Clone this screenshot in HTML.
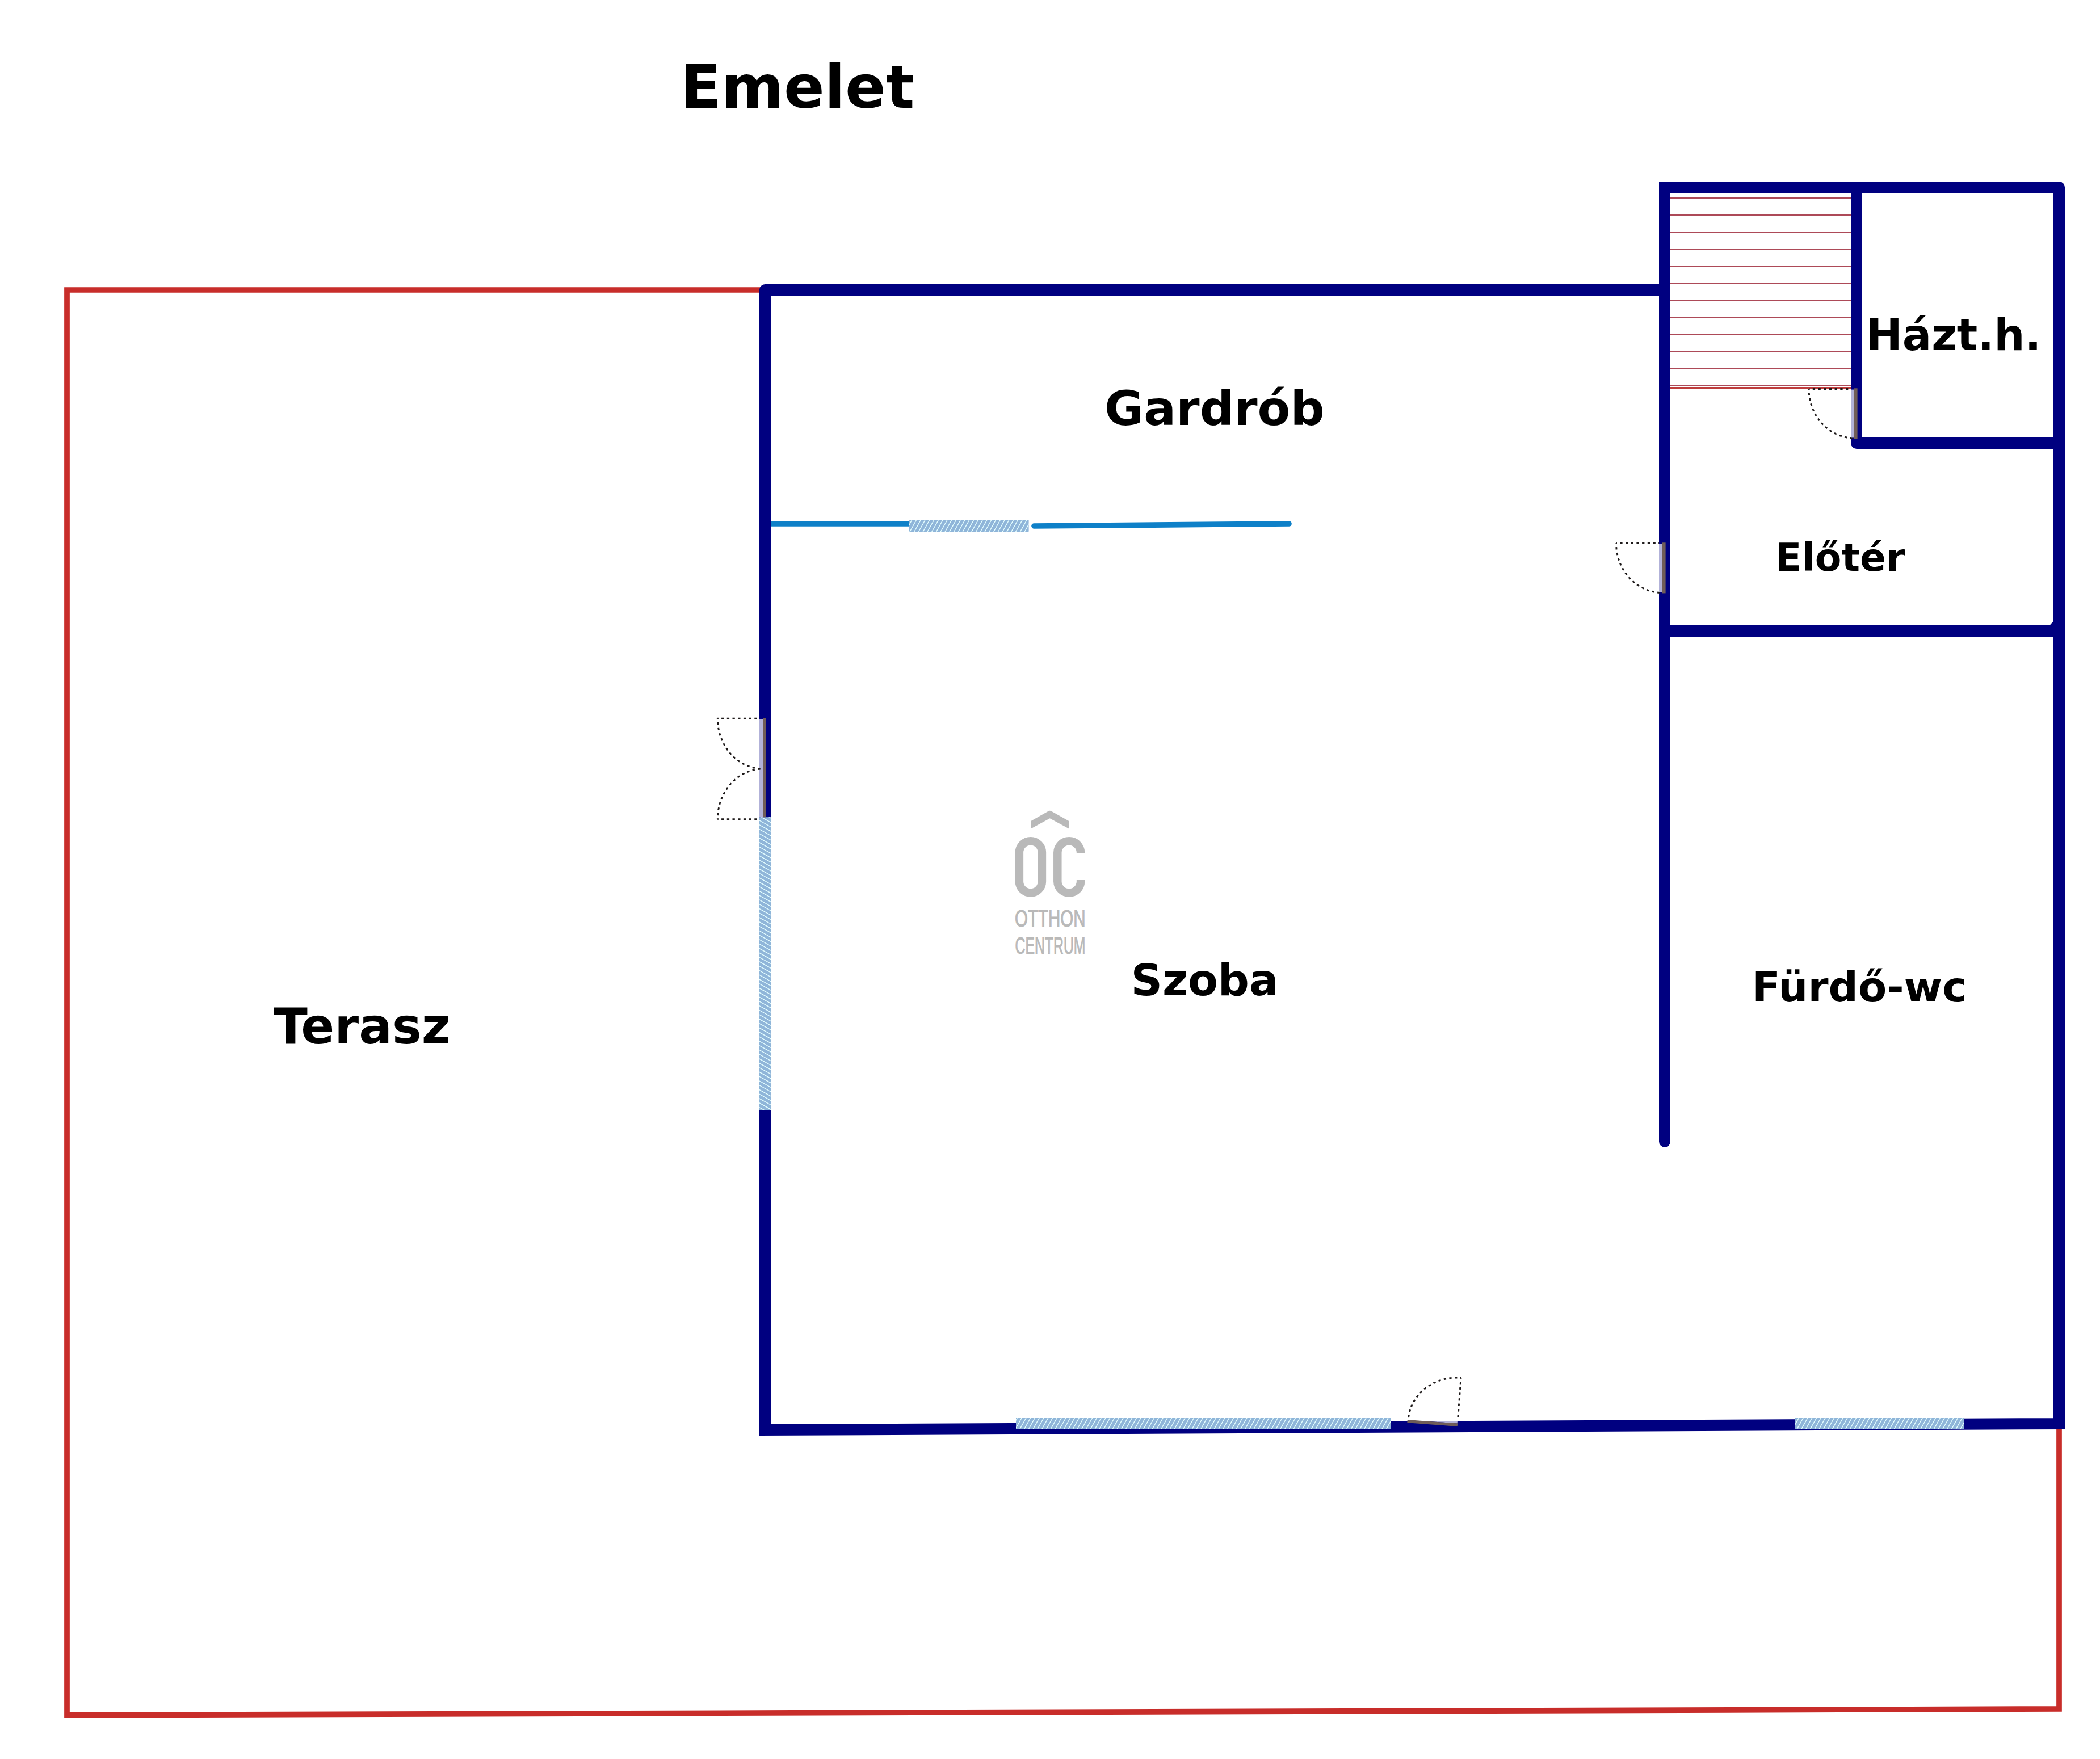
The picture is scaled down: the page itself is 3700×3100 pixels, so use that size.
<!DOCTYPE html>
<html lang="hu">
<head>
<meta charset="utf-8">
<title>Emelet</title>
<style>
  html, body { margin: 0; padding: 0; background: #ffffff; }
  body { width: 3700px; height: 3100px; overflow: hidden; }
  svg { display: block; }
  .lbl { font-family: "DejaVu Sans", "Liberation Sans", sans-serif; font-weight: bold; fill: #000000; }
  .logo { font-family: "Liberation Sans", "DejaVu Sans", sans-serif; font-weight: normal; fill: #b9b9b9; stroke: #b9b9b9; stroke-width: 1.1; stroke-linejoin: round; }
  .wall { stroke: #000080; stroke-width: 20; fill: none; }
  .red { stroke: #c82d2a; fill: none; }
  .dot { stroke: #1e1a1a; stroke-width: 2.9; stroke-dasharray: 4.3 5.4; stroke-dashoffset: 2.9; fill: none; }
</style>
</head>
<body>
<svg width="3700" height="3100" viewBox="0 0 3700 3100">

  <rect x="0" y="0" width="3700" height="3100" fill="#ffffff"/>

  <!-- terrace outline -->
  <polyline class="red" stroke-width="9.7" stroke-linejoin="miter" points="1348,511 118,511 118,3022.8 3628,3012 3628,2515"/>

  <!-- stairs -->
  <g fill="none" stroke-width="1.9" stroke="#ad4a58">
    <line x1="2943" y1="349" x2="3261" y2="349"/>
    <line x1="2943" y1="379" x2="3261" y2="379"/>
    <line x1="2943" y1="409" x2="3261" y2="409"/>
    <line x1="2943" y1="439" x2="3261" y2="439"/>
    <line x1="2943" y1="469" x2="3261" y2="469"/>
    <line x1="2943" y1="499" x2="3261" y2="499"/>
    <line x1="2943" y1="529" x2="3261" y2="529"/>
    <line x1="2943" y1="559" x2="3261" y2="559"/>
    <line x1="2943" y1="589" x2="3261" y2="589"/>
    <line x1="2943" y1="619" x2="3261" y2="619"/>
    <line x1="2943" y1="649" x2="3261" y2="649"/>
    <line x1="2943" y1="679" x2="3261" y2="679"/>
  </g>
  <line x1="2943" y1="684" x2="3261" y2="684" stroke="#be3c3c" stroke-width="3.9"/>

  <!-- wardrobe partition -->
  <line x1="1358" y1="923" x2="1601" y2="923" stroke="#0e80c8" stroke-width="9.7"/>
  <line x1="1822" y1="927" x2="2271" y2="923" stroke="#0e80c8" stroke-width="9.7" stroke-linecap="round"/>

  <!-- walls -->
  <g class="wall">
    <path stroke-linejoin="round" stroke-linecap="butt" d="M1348,1265 L1348,511 L2933,511"/>
    <path stroke-linejoin="miter" stroke-linecap="butt" d="M1348,1956 L1348,2520 L3628,2509 L3628,330"/>
    <path stroke-linejoin="round" stroke-linecap="butt" d="M3628,340 L3628,330 L3600,330"/>
    <path stroke-linejoin="miter" stroke-linecap="round" d="M3610,330 L2933,330 L2933,2011.7"/>
    <path stroke-linejoin="round" stroke-linecap="butt" d="M3271,330 L3271,781 L3628,781"/>
    <path stroke-linecap="butt" d="M2933,1112 L3628,1112"/>
    <path stroke-linecap="butt" d="M1348,1265 L1348,1441"/>
  </g>
  <polygon points="3611,1102.5 3618.5,1094 3618.5,1102.5" fill="#000080"/>

  <!-- windows -->
  <clipPath id="cw1"><rect x="1601" y="917" width="211.6" height="20"/></clipPath>
  <rect x="1601" y="917" width="211.6" height="20" fill="#8fb5d9"/>
  <path clip-path="url(#cw1)" d="M1586.3,939.0 L1599.7,915.0 M1594.1,939.0 L1607.5,915.0 M1601.9,939.0 L1615.3,915.0 M1609.7,939.0 L1623.0,915.0 M1617.4,939.0 L1630.8,915.0 M1625.2,939.0 L1638.6,915.0 M1633.0,939.0 L1646.4,915.0 M1640.8,939.0 L1654.2,915.0 M1648.6,939.0 L1661.9,915.0 M1656.3,939.0 L1669.7,915.0 M1664.1,939.0 L1677.5,915.0 M1671.9,939.0 L1685.3,915.0 M1679.7,939.0 L1693.1,915.0 M1687.5,939.0 L1700.8,915.0 M1695.2,939.0 L1708.6,915.0 M1703.0,939.0 L1716.4,915.0 M1710.8,939.0 L1724.2,915.0 M1718.6,939.0 L1732.0,915.0 M1726.4,939.0 L1739.7,915.0 M1734.1,939.0 L1747.5,915.0 M1741.9,939.0 L1755.3,915.0 M1749.7,939.0 L1763.1,915.0 M1757.5,939.0 L1770.9,915.0 M1765.3,939.0 L1778.6,915.0 M1773.0,939.0 L1786.4,915.0 M1780.8,939.0 L1794.2,915.0 M1788.6,939.0 L1802.0,915.0 M1796.4,939.0 L1809.8,915.0 M1804.2,939.0 L1817.5,915.0 M1811.9,939.0 L1825.3,915.0" stroke="#e6ffff" stroke-width="1.4" fill="none"/>
  <clipPath id="cw2"><rect x="1790" y="2499" width="660.7" height="19.6"/></clipPath>
  <rect x="1790" y="2499" width="660.7" height="19.6" fill="#8fb5d9"/>
  <path clip-path="url(#cw2)" d="M1772.4,2520.6 L1785.5,2497.0 M1780.1,2520.6 L1793.3,2497.0 M1787.9,2520.6 L1801.1,2497.0 M1795.7,2520.6 L1808.9,2497.0 M1803.5,2520.6 L1816.6,2497.0 M1811.3,2520.6 L1824.4,2497.0 M1819.0,2520.6 L1832.2,2497.0 M1826.8,2520.6 L1840.0,2497.0 M1834.6,2520.6 L1847.8,2497.0 M1842.4,2520.6 L1855.5,2497.0 M1850.2,2520.6 L1863.3,2497.0 M1857.9,2520.6 L1871.1,2497.0 M1865.7,2520.6 L1878.9,2497.0 M1873.5,2520.6 L1886.7,2497.0 M1881.3,2520.6 L1894.4,2497.0 M1889.1,2520.6 L1902.2,2497.0 M1896.8,2520.6 L1910.0,2497.0 M1904.6,2520.6 L1917.8,2497.0 M1912.4,2520.6 L1925.6,2497.0 M1920.2,2520.6 L1933.3,2497.0 M1928.0,2520.6 L1941.1,2497.0 M1935.7,2520.6 L1948.9,2497.0 M1943.5,2520.6 L1956.7,2497.0 M1951.3,2520.6 L1964.5,2497.0 M1959.1,2520.6 L1972.2,2497.0 M1966.9,2520.6 L1980.0,2497.0 M1974.6,2520.6 L1987.8,2497.0 M1982.4,2520.6 L1995.6,2497.0 M1990.2,2520.6 L2003.4,2497.0 M1998.0,2520.6 L2011.1,2497.0 M2005.8,2520.6 L2018.9,2497.0 M2013.5,2520.6 L2026.7,2497.0 M2021.3,2520.6 L2034.5,2497.0 M2029.1,2520.6 L2042.3,2497.0 M2036.9,2520.6 L2050.0,2497.0 M2044.7,2520.6 L2057.8,2497.0 M2052.4,2520.6 L2065.6,2497.0 M2060.2,2520.6 L2073.4,2497.0 M2068.0,2520.6 L2081.2,2497.0 M2075.8,2520.6 L2088.9,2497.0 M2083.6,2520.6 L2096.7,2497.0 M2091.3,2520.6 L2104.5,2497.0 M2099.1,2520.6 L2112.3,2497.0 M2106.9,2520.6 L2120.1,2497.0 M2114.7,2520.6 L2127.8,2497.0 M2122.5,2520.6 L2135.6,2497.0 M2130.2,2520.6 L2143.4,2497.0 M2138.0,2520.6 L2151.2,2497.0 M2145.8,2520.6 L2159.0,2497.0 M2153.6,2520.6 L2166.7,2497.0 M2161.4,2520.6 L2174.5,2497.0 M2169.1,2520.6 L2182.3,2497.0 M2176.9,2520.6 L2190.1,2497.0 M2184.7,2520.6 L2197.9,2497.0 M2192.5,2520.6 L2205.6,2497.0 M2200.3,2520.6 L2213.4,2497.0 M2208.0,2520.6 L2221.2,2497.0 M2215.8,2520.6 L2229.0,2497.0 M2223.6,2520.6 L2236.8,2497.0 M2231.4,2520.6 L2244.5,2497.0 M2239.2,2520.6 L2252.3,2497.0 M2246.9,2520.6 L2260.1,2497.0 M2254.7,2520.6 L2267.9,2497.0 M2262.5,2520.6 L2275.7,2497.0 M2270.3,2520.6 L2283.4,2497.0 M2278.1,2520.6 L2291.2,2497.0 M2285.8,2520.6 L2299.0,2497.0 M2293.6,2520.6 L2306.8,2497.0 M2301.4,2520.6 L2314.6,2497.0 M2309.2,2520.6 L2322.3,2497.0 M2317.0,2520.6 L2330.1,2497.0 M2324.7,2520.6 L2337.9,2497.0 M2332.5,2520.6 L2345.7,2497.0 M2340.3,2520.6 L2353.5,2497.0 M2348.1,2520.6 L2361.2,2497.0 M2355.9,2520.6 L2369.0,2497.0 M2363.6,2520.6 L2376.8,2497.0 M2371.4,2520.6 L2384.6,2497.0 M2379.2,2520.6 L2392.4,2497.0 M2387.0,2520.6 L2400.1,2497.0 M2394.8,2520.6 L2407.9,2497.0 M2402.5,2520.6 L2415.7,2497.0 M2410.3,2520.6 L2423.5,2497.0 M2418.1,2520.6 L2431.3,2497.0 M2425.9,2520.6 L2439.0,2497.0 M2433.7,2520.6 L2446.8,2497.0 M2441.4,2520.6 L2454.6,2497.0 M2449.2,2520.6 L2462.4,2497.0" stroke="#e6ffff" stroke-width="1.4" fill="none"/>
  <clipPath id="cw3"><rect x="3162.2" y="2499" width="298.8" height="19.6"/></clipPath>
  <rect x="3162.2" y="2499" width="298.8" height="19.6" fill="#8fb5d9"/>
  <path clip-path="url(#cw3)" d="M3149.4,2520.6 L3162.6,2497.0 M3157.2,2520.6 L3170.4,2497.0 M3165.0,2520.6 L3178.1,2497.0 M3172.8,2520.6 L3185.9,2497.0 M3180.5,2520.6 L3193.7,2497.0 M3188.3,2520.6 L3201.5,2497.0 M3196.1,2520.6 L3209.3,2497.0 M3203.9,2520.6 L3217.0,2497.0 M3211.7,2520.6 L3224.8,2497.0 M3219.4,2520.6 L3232.6,2497.0 M3227.2,2520.6 L3240.4,2497.0 M3235.0,2520.6 L3248.2,2497.0 M3242.8,2520.6 L3255.9,2497.0 M3250.6,2520.6 L3263.7,2497.0 M3258.3,2520.6 L3271.5,2497.0 M3266.1,2520.6 L3279.3,2497.0 M3273.9,2520.6 L3287.1,2497.0 M3281.7,2520.6 L3294.8,2497.0 M3289.5,2520.6 L3302.6,2497.0 M3297.2,2520.6 L3310.4,2497.0 M3305.0,2520.6 L3318.2,2497.0 M3312.8,2520.6 L3326.0,2497.0 M3320.6,2520.6 L3333.7,2497.0 M3328.4,2520.6 L3341.5,2497.0 M3336.1,2520.6 L3349.3,2497.0 M3343.9,2520.6 L3357.1,2497.0 M3351.7,2520.6 L3364.9,2497.0 M3359.5,2520.6 L3372.6,2497.0 M3367.3,2520.6 L3380.4,2497.0 M3375.0,2520.6 L3388.2,2497.0 M3382.8,2520.6 L3396.0,2497.0 M3390.6,2520.6 L3403.8,2497.0 M3398.4,2520.6 L3411.5,2497.0 M3406.2,2520.6 L3419.3,2497.0 M3413.9,2520.6 L3427.1,2497.0 M3421.7,2520.6 L3434.9,2497.0 M3429.5,2520.6 L3442.7,2497.0 M3437.3,2520.6 L3450.4,2497.0 M3445.1,2520.6 L3458.2,2497.0 M3452.8,2520.6 L3466.0,2497.0 M3460.6,2520.6 L3473.8,2497.0" stroke="#e6ffff" stroke-width="1.4" fill="none"/>
  <clipPath id="cw4"><rect x="1338" y="1440.2" width="20" height="515.8"/></clipPath>
  <rect x="1338" y="1440.2" width="20" height="515.8" fill="#8fb5d9"/>
  <path clip-path="url(#cw4)" d="M1336.0,1421.5 L1360.0,1434.9 M1336.0,1429.3 L1360.0,1442.7 M1336.0,1437.1 L1360.0,1450.5 M1336.0,1444.9 L1360.0,1458.3 M1336.0,1452.7 L1360.0,1466.0 M1336.0,1460.4 L1360.0,1473.8 M1336.0,1468.2 L1360.0,1481.6 M1336.0,1476.0 L1360.0,1489.4 M1336.0,1483.8 L1360.0,1497.2 M1336.0,1491.6 L1360.0,1504.9 M1336.0,1499.3 L1360.0,1512.7 M1336.0,1507.1 L1360.0,1520.5 M1336.0,1514.9 L1360.0,1528.3 M1336.0,1522.7 L1360.0,1536.1 M1336.0,1530.5 L1360.0,1543.8 M1336.0,1538.2 L1360.0,1551.6 M1336.0,1546.0 L1360.0,1559.4 M1336.0,1553.8 L1360.0,1567.2 M1336.0,1561.6 L1360.0,1575.0 M1336.0,1569.4 L1360.0,1582.7 M1336.0,1577.1 L1360.0,1590.5 M1336.0,1584.9 L1360.0,1598.3 M1336.0,1592.7 L1360.0,1606.1 M1336.0,1600.5 L1360.0,1613.9 M1336.0,1608.3 L1360.0,1621.6 M1336.0,1616.0 L1360.0,1629.4 M1336.0,1623.8 L1360.0,1637.2 M1336.0,1631.6 L1360.0,1645.0 M1336.0,1639.4 L1360.0,1652.8 M1336.0,1647.2 L1360.0,1660.5 M1336.0,1654.9 L1360.0,1668.3 M1336.0,1662.7 L1360.0,1676.1 M1336.0,1670.5 L1360.0,1683.9 M1336.0,1678.3 L1360.0,1691.7 M1336.0,1686.1 L1360.0,1699.4 M1336.0,1693.8 L1360.0,1707.2 M1336.0,1701.6 L1360.0,1715.0 M1336.0,1709.4 L1360.0,1722.8 M1336.0,1717.2 L1360.0,1730.6 M1336.0,1725.0 L1360.0,1738.3 M1336.0,1732.7 L1360.0,1746.1 M1336.0,1740.5 L1360.0,1753.9 M1336.0,1748.3 L1360.0,1761.7 M1336.0,1756.1 L1360.0,1769.5 M1336.0,1763.9 L1360.0,1777.2 M1336.0,1771.6 L1360.0,1785.0 M1336.0,1779.4 L1360.0,1792.8 M1336.0,1787.2 L1360.0,1800.6 M1336.0,1795.0 L1360.0,1808.4 M1336.0,1802.8 L1360.0,1816.1 M1336.0,1810.5 L1360.0,1823.9 M1336.0,1818.3 L1360.0,1831.7 M1336.0,1826.1 L1360.0,1839.5 M1336.0,1833.9 L1360.0,1847.3 M1336.0,1841.7 L1360.0,1855.0 M1336.0,1849.4 L1360.0,1862.8 M1336.0,1857.2 L1360.0,1870.6 M1336.0,1865.0 L1360.0,1878.4 M1336.0,1872.8 L1360.0,1886.2 M1336.0,1880.6 L1360.0,1893.9 M1336.0,1888.3 L1360.0,1901.7 M1336.0,1896.1 L1360.0,1909.5 M1336.0,1903.9 L1360.0,1917.3 M1336.0,1911.7 L1360.0,1925.1 M1336.0,1919.5 L1360.0,1932.8 M1336.0,1927.2 L1360.0,1940.6 M1336.0,1935.0 L1360.0,1948.4 M1336.0,1942.8 L1360.0,1956.2 M1336.0,1950.6 L1360.0,1964.0" stroke="#e6ffff" stroke-width="1.4" fill="none"/>

  <!-- door: stairs / Hazt.h. -->
  <g>
    <path class="dot" d="M3187,685.5 L3261,685.5"/>
    <path class="dot" d="M3187,685.5 A80,86.6 0 0 0 3267,772.1"/>
    <rect x="3261" y="686.6" width="6.2" height="84.8" fill="#b2b2d9"/>
    <rect x="3267" y="684.3" width="5.6" height="89.1" fill="#705d58"/>
  </g>

  <!-- door: Szoba / Eloter -->
  <g>
    <path class="dot" d="M2847.5,957.5 L2923,957.5"/>
    <path class="dot" d="M2847.5,957.5 A81.5,87 0 0 0 2929,1044.5"/>
    <rect x="2923" y="958.6" width="6.2" height="84.8" fill="#b2b2d9"/>
    <rect x="2929" y="956.3" width="5.6" height="89.1" fill="#705d58"/>
  </g>

  <!-- double door: Terasz / Szoba -->
  <g>
    <rect x="1338" y="1267.5" width="6.6" height="172.7" fill="#b2b2d9"/>
    <rect x="1344.4" y="1265" width="5.6" height="175.3" fill="#705d58"/>
    <path class="dot" d="M1264.3,1266.2 L1338,1266.2"/>
    <path class="dot" d="M1264.3,1266.2 A80,88.8 0 0 0 1344.4,1355"/>
    <path class="dot" d="M1264.3,1443.8 L1338,1443.8"/>
    <path class="dot" d="M1264.3,1443.8 A80,88.8 0 0 1 1344.4,1355"/>
  </g>

  <!-- door: bottom wall -->
  <g>
    <g transform="rotate(4.3 2568 2508.6)">
      <rect x="2479.5" y="2502.6" width="88.1" height="6" fill="#ffffff" fill-opacity="0.7"/>
      <rect x="2479.5" y="2508.6" width="88.6" height="5.3" fill="#705d58"/>
      <path class="dot" d="M2568,2428 L2568,2500"/>
      <path class="dot" d="M2568,2428 A87,80 0 0 0 2481,2508"/>
    </g>
  </g>

  <!-- watermark logo -->
  <g fill="#b9b9b9">
    <path d="M1816.4,1446.9 L1847.2,1429.4 Q1849.7,1428 1852.2,1429.4 L1883.3,1446.9 L1883.3,1460.5 L1849.7,1442.3 L1816.4,1460.5 Z"/>
  </g>
  <rect x="1795.9" y="1482.3" width="40" height="91.3" rx="20" ry="20" fill="none" stroke="#b9b9b9" stroke-width="14.5"/>
  <path d="M1904.1,1504 L1904.1,1502.7 A20.4,20.4 0 0 0 1863.3,1502.7 L1863.3,1553.2 A20.4,20.4 0 0 0 1904.1,1553.2 L1904.1,1551" fill="none" stroke="#b9b9b9" stroke-width="14.5" stroke-linejoin="round"/>
  <text class="logo" x="1788" y="1633.3" font-size="43" textLength="124.5" lengthAdjust="spacingAndGlyphs">OTTHON</text>
  <text class="logo" x="1788.5" y="1680.6" font-size="43" textLength="124" lengthAdjust="spacingAndGlyphs">CENTRUM</text>

  <!-- labels -->
  <text class="lbl" x="1198.5" y="189.5" font-size="105.8" textLength="412.9" lengthAdjust="spacingAndGlyphs">Emelet</text>
  <text class="lbl" x="1946" y="749" font-size="84.3" textLength="387.8" lengthAdjust="spacingAndGlyphs">Gardrób</text>
  <text class="lbl" x="3288" y="616.7" font-size="76.3" textLength="308.5" lengthAdjust="spacingAndGlyphs">Házt.h.</text>
  <text class="lbl" x="3128" y="1005.7" font-size="68" textLength="228.6" lengthAdjust="spacingAndGlyphs">Előtér</text>
  <text class="lbl" x="3087" y="1764.9" font-size="73.2" textLength="378.6" lengthAdjust="spacingAndGlyphs">Fürdő-wc</text>
  <text class="lbl" x="1992.5" y="1754.2" font-size="77.1" textLength="260.6" lengthAdjust="spacingAndGlyphs">Szoba</text>
  <text class="lbl" x="482.5" y="1839" font-size="87" textLength="310.8" lengthAdjust="spacingAndGlyphs">Terasz</text>
</svg>
</body>
</html>
